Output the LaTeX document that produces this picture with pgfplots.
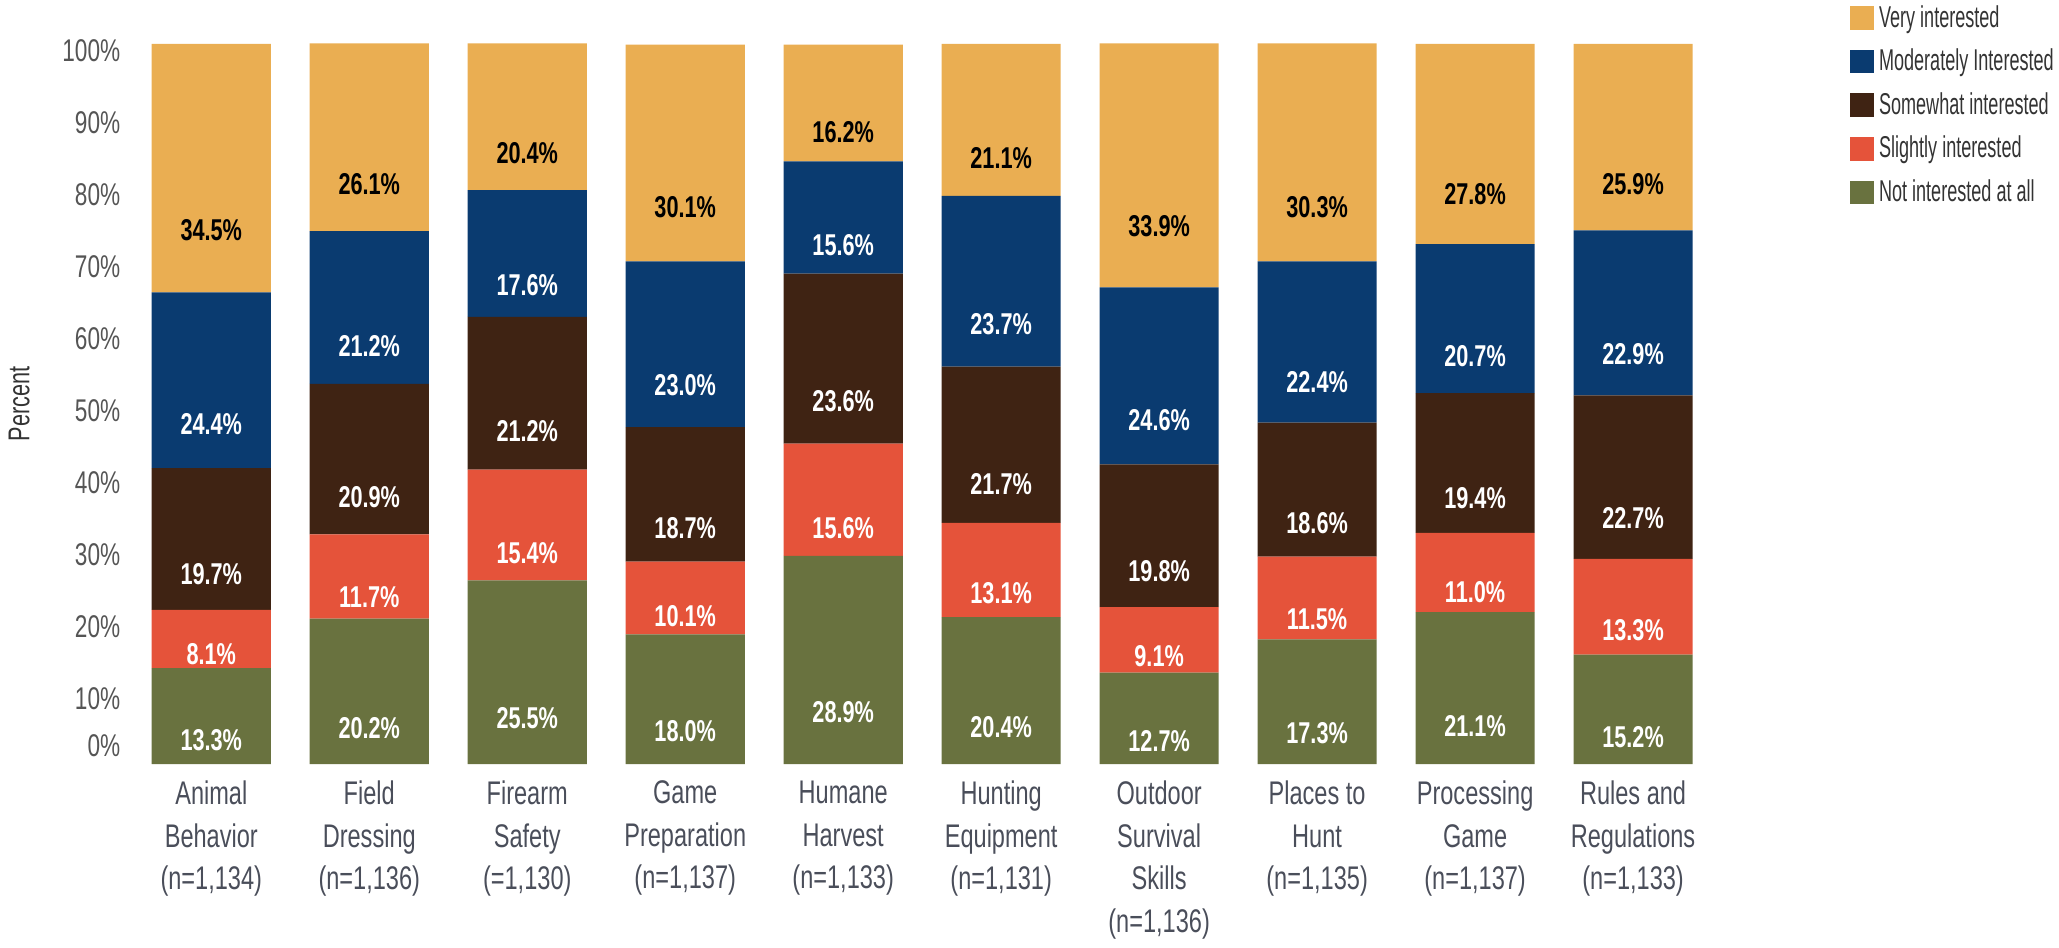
\documentclass[border=0pt]{standalone}
\usepackage{pgfplots}
\pgfplotsset{compat=1.18}
\usepackage{pgfplotstable}
\usepackage{fontspec}
\setmainfont[FakeStretch=0.72]{Liberation Sans}
\newfontfamily\legfont[FakeStretch=0.6]{Liberation Sans}
\definecolor{cVery}{HTML}{EAAE52}
\definecolor{cMod}{HTML}{0A3B70}
\definecolor{cSome}{HTML}{3F2313}
\definecolor{cSlight}{HTML}{E5533A}
\definecolor{cNot}{HTML}{69723F}
\definecolor{tickgray}{HTML}{555555}
\definecolor{catgray}{HTML}{4A4E5A}
\definecolor{leggray}{HTML}{333333}

\pgfplotstableread{
x notat slight some moder very
0 13.3 8.1 19.7 24.4 34.5
1 20.2 11.7 20.9 21.2 26.1
2 25.5 15.4 21.2 17.6 20.4
3 18.0 10.1 18.7 23.0 30.1
4 28.9 15.6 23.6 15.6 16.2
5 20.4 13.1 21.7 23.7 21.1
6 12.7 9.1 19.8 24.6 33.9
7 17.3 11.5 18.6 22.4 30.3
8 21.1 11.0 19.4 20.7 27.8
9 15.2 13.3 22.7 22.9 25.9
}\data

\pgfplotsset{
  seg/.style={
    fill=#1, draw=none,
  },
  seglabel/.style={
    visualization depends on={\thisrow{#1} \as \rawy},
  },
}

\begin{document}
\begin{tikzpicture}
\begin{axis}[
  scale only axis, width=588.5pt, height=275pt,
  ybar stacked, bar width=45.5pt,
  xmin=-0.377, xmax=9.377, ymin=0, ymax=100,
  clip=false,
  axis line style={draw=none},
  major tick length=0pt,
  ytick={2.5,9.1,19.1,29.1,39.1,49.1,59.1,69.1,79.1,89.1,99.1},
  yticklabels={0\%,10\%,20\%,30\%,40\%,50\%,60\%,70\%,80\%,90\%,100\%},
  /pgf/number format/assume math mode=true,
  yticklabel style={text=tickgray, font=\fontsize{12}{13}\selectfont, xshift=-8.5pt},
  ylabel={Percent},
  ylabel style={at={(axis description cs:-0.086,0.5)}, anchor=center, rotate=0, font=\fontsize{11.5}{13}\selectfont, text=leggray},
  xtick={0,...,9},
  xticklabels={{Animal\\Behavior\\(n=1,134)}, {Field\\Dressing\\(n=1,136)}, {Firearm\\Safety\\(=1,130)}, {Game\\Preparation\\(n=1,137)}, {Humane\\Harvest\\(n=1,133)}, {Hunting\\Equipment\\(n=1,131)}, {Outdoor\\Survival\\Skills\\(n=1,136)}, {Places to\\Hunt\\(n=1,135)}, {Processing\\Game\\(n=1,137)}, {Rules and\\Regulations\\(n=1,133)}},
  xticklabel style={align=center, text=catgray, font=\fontsize{12.5}{16.2}\selectfont, yshift=-3pt},
  point meta=explicit,
  nodes near coords={\pgfmathprintnumber[fixed, fixed zerofill, precision=1]{\pgfplotspointmeta}\%},
  every node near coord/.append style={anchor=center, yshift=-\rawy*0.6875pt, font=\bfseries\fontsize{11.5}{13}\selectfont, text=white},
  legend image code/.code={\fill[#1] (0pt,-4.5pt) rectangle (9pt,4.5pt);},
  reverse legend,
  legend style={at={(axis description cs:1,1)}, anchor=north west, xshift=60pt, yshift=17pt, draw=none, fill=none, inner sep=0pt, row sep=2.8pt, font=\legfont\fontsize{11.5}{13}\selectfont, text=leggray, cells={anchor=west}},
]
\addplot+[seg=cNot, seglabel=notat] table[x=x, y=notat, meta=notat]{\data};
\addlegendentry{Not interested at all}
\addplot+[seg=cSlight, seglabel=slight] table[x=x, y=slight, meta=slight]{\data};
\addlegendentry{Slightly interested}
\addplot+[seg=cSome, seglabel=some] table[x=x, y=some, meta=some]{\data};
\addlegendentry{Somewhat interested}
\addplot+[seg=cMod, seglabel=moder] table[x=x, y=moder, meta=moder]{\data};
\addlegendentry{Moderately Interested}
\addplot+[seg=cVery, seglabel=very, every node near coord/.append style={text=black}] table[x=x, y=very, meta=very]{\data};
\addlegendentry{Very interested}
\end{axis}
\end{tikzpicture}
\end{document}
